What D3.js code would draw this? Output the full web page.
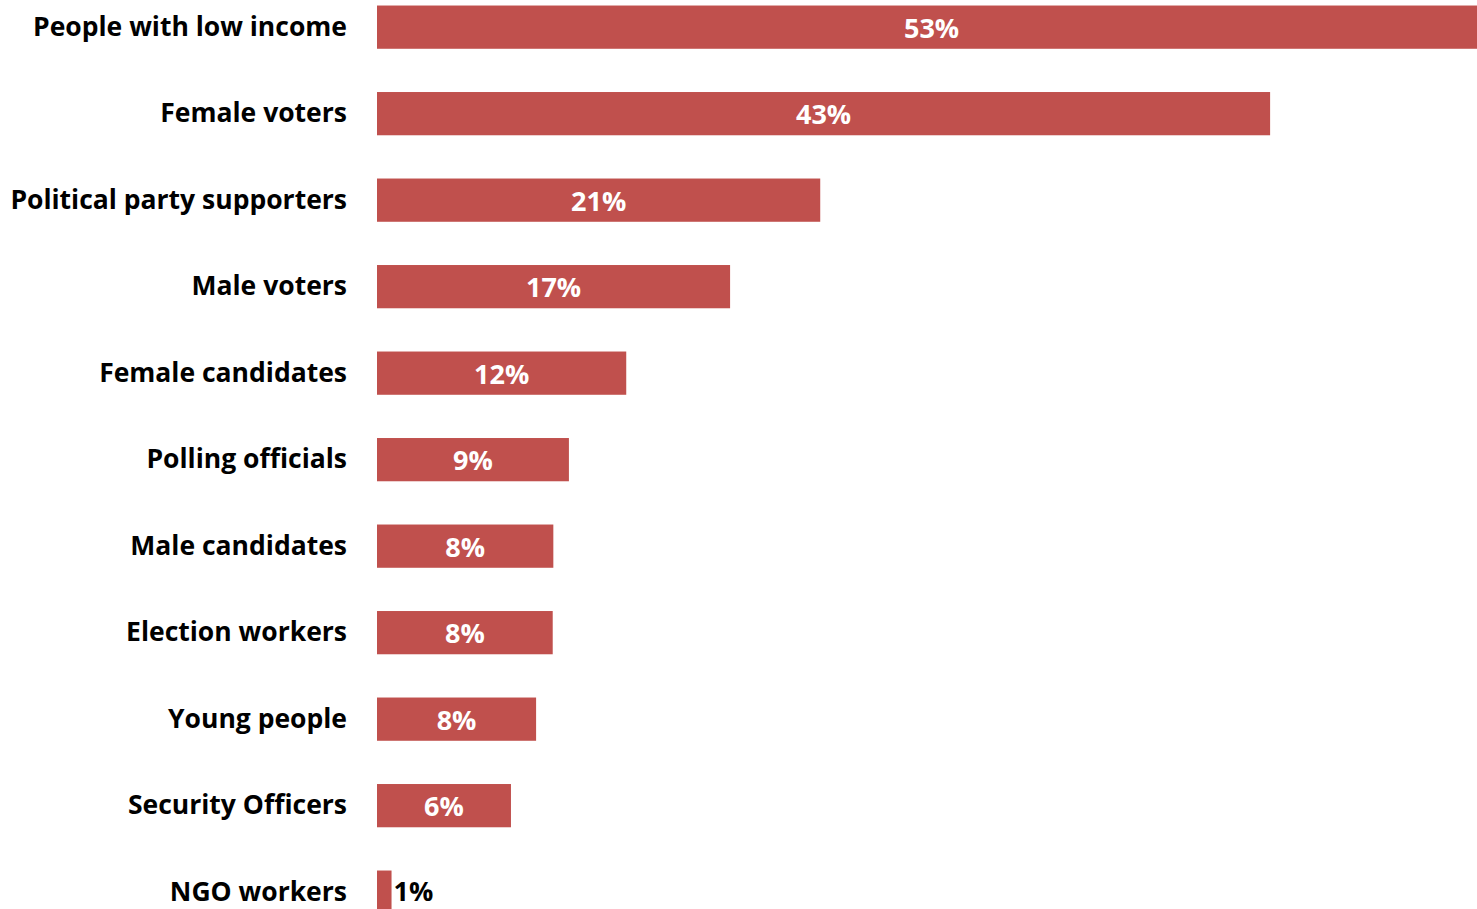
<!DOCTYPE html>
<html>
<head>
<meta charset="utf-8">
<script src="https://cdn.jsdelivr.net/npm/d3@7"></script>
<style>
  html, body { margin: 0; padding: 0; background: #fff; overflow: hidden; }
  svg { display: block; }
</style>
</head>
<body>
<svg id="chart" width="1477" height="909"></svg>
<script>
const categories = [
  "People with low income",
  "Female voters",
  "Political party supporters",
  "Male voters",
  "Female candidates",
  "Polling officials",
  "Male candidates",
  "Election workers",
  "Young people",
  "Security Officers",
  "NGO workers"
];
const values = [53.4, 43.0, 21.34, 17.0, 12.0, 9.24, 8.49, 8.46, 7.66, 6.45, 0.7];

const W = 1477, H = 909;
const svg = d3.select("#chart");
const barColor = "#C0504D";
const fontFamily = "'Open Sans', Lato, sans-serif";

const x = d3.scaleLinear().domain([0, 55]).range([377, 377 + 55 * 20.77]);
const y = d3.scaleBand().domain(categories).range([-16.1, 935.4]).paddingInner(0.5).paddingOuter(0.25);

const data = categories.map((c, i) => ({ cat: c, value: values[i] }));
const fmt = v => d3.format(".0f")(v) + "%";

// Category axis (labels only)
const yAxis = d3.axisLeft(y).tickSize(0).tickPadding(0);
const gy = svg.append("g").attr("transform", "translate(347,0)").call(yAxis);
gy.select(".domain").remove();
gy.selectAll("text")
  .attr("font-family", fontFamily)
  .attr("font-weight", 700)
  .attr("font-size", 26.5)
  .attr("fill", "#000")
  .attr("dy", "0.33em");

// Bars
svg.append("g").selectAll("rect").data(data).join("rect")
  .attr("x", x(0))
  .attr("y", d => y(d.cat))
  .attr("width", d => x(d.value) - x(0))
  .attr("height", y.bandwidth())
  .attr("fill", barColor);

// Value labels
const labels = svg.append("g").selectAll("text").data(data).join("text")
  .attr("font-family", fontFamily)
  .attr("font-weight", 700)
  .attr("font-size", 27)
  .attr("y", d => y(d.cat) + y.bandwidth() / 2)
  .attr("dy", "0.4em")
  .text(d => fmt(d.value));

labels.each(function(d) {
  const tw = this.getComputedTextLength();
  const bw = x(d.value) - x(0);
  const sel = d3.select(this);
  if (bw > tw + 10) {
    sel.attr("x", (x(0) + x(d.value)) / 2).attr("text-anchor", "middle").attr("fill", "#fff");
  } else {
    sel.attr("x", x(d.value) + 2).attr("text-anchor", "start").attr("fill", "#000").attr("dy", "0.33em");
  }
});
</script>
</body>
</html>
